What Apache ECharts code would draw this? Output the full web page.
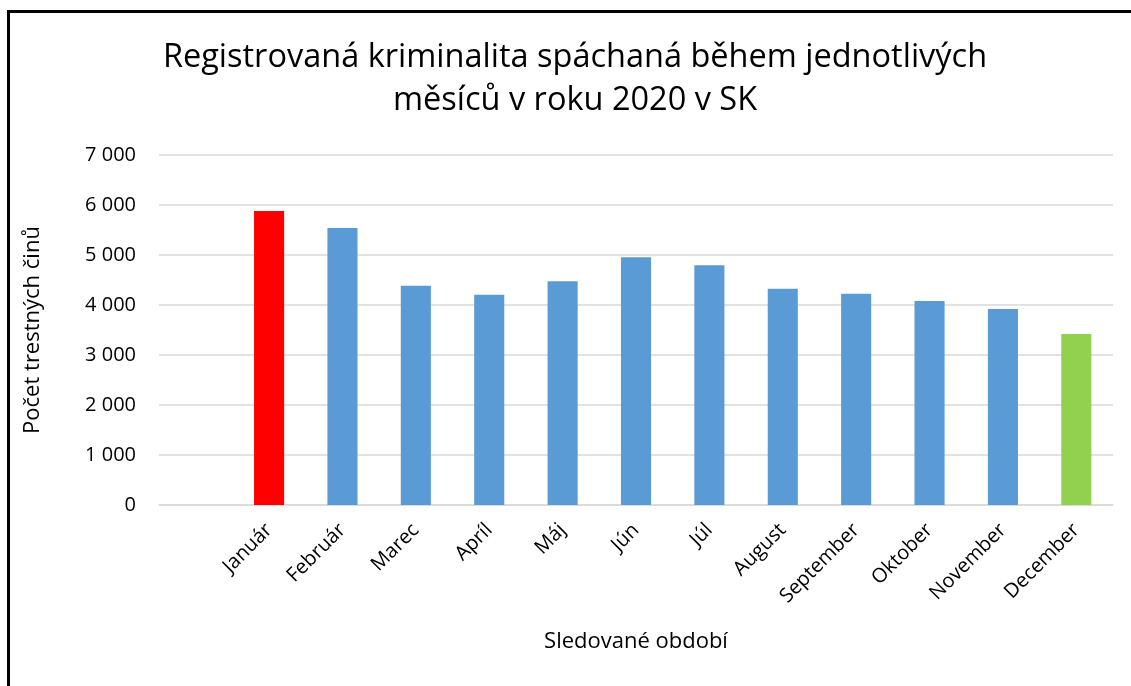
<!DOCTYPE html>
<html>
<head>
<meta charset="utf-8">
<script src="https://cdn.jsdelivr.net/npm/echarts@6/dist/echarts.min.js"></script>
<style>
html,body{margin:0;padding:0;background:#fff;overflow:hidden;}
#frame{position:absolute;left:7px;top:10px;width:1140px;height:700px;border:3px solid #000;box-sizing:border-box;}
#chart{position:absolute;left:0;top:0;width:1131px;height:686px;}
</style>
</head>
<body>
<div id="frame"></div>
<div id="chart"></div>
<script>
const categories = ['', 'Január', 'Február', 'Marec', 'Apríl', 'Máj', 'Jún', 'Júl', 'August', 'September', 'Oktober', 'November', 'December'];
const values = [null, 5880, 5540, 4386, 4206, 4474, 4954, 4794, 4326, 4226, 4080, 3920, 3420];
const barColors = ['#5B9BD5', '#FF0000', '#5B9BD5', '#5B9BD5', '#5B9BD5', '#5B9BD5', '#5B9BD5', '#5B9BD5', '#5B9BD5', '#5B9BD5', '#5B9BD5', '#5B9BD5', '#92D050'];
const yTicks = { min: 0, max: 7000, interval: 1000 };
const titleText = 'Registrovaná kriminalita spáchaná během jednotlivých\nměsíců v roku 2020 v SK';
const yName = 'Počet trestných činů';
const xName = 'Sledované období';

const FONT = '"Open Sans", "Noto Sans", sans-serif';
const chart = echarts.init(document.getElementById('chart'), null, {renderer: 'canvas'});
chart.setOption({
  backgroundColor: 'transparent',
  animation: false,
  title: {
    text: titleText,
    left: 575,
    textAlign: 'center',
    top: 36,
    padding: 0,
    textStyle: { fontFamily: FONT, fontSize: 32.5, fontWeight: 'normal', color: '#000', lineHeight: 43 }
  },
  grid: { left: 159, right: 18, top: 155, bottom: 181, containLabel: false },
  xAxis: {
    type: 'category',
    data: categories,
    name: xName,
    nameLocation: 'middle',
    nameGap: 126,
    nameTextStyle: { fontFamily: FONT, fontSize: 22, color: '#000' },
    axisLine: { lineStyle: { color: '#D9D9D9', width: 1.5 } },
    axisTick: { show: false },
    axisLabel: { interval: 0, rotate: 45, margin: 22, fontFamily: FONT, fontSize: 20, color: '#000' }
  },
  yAxis: {
    type: 'value',
    min: yTicks.min, max: yTicks.max, interval: yTicks.interval,
    name: yName,
    nameLocation: 'middle',
    nameGap: 115,
    nameRotate: 90,
    nameTextStyle: { fontFamily: FONT, fontSize: 22, color: '#000' },
    axisLine: { show: false },
    axisTick: { show: false },
    splitLine: { lineStyle: { color: '#D9D9D9', width: 1.5 } },
    axisLabel: {
      margin: 23, fontFamily: FONT, fontSize: 20, color: '#000',
      formatter: v => String(v).replace(/\B(?=(\d{3})+(?!\d))/g, ' ')
    }
  },
  series: [{
    type: 'bar',
    barWidth: '41%',
    data: values.map((v, i) => ({ value: v, itemStyle: { color: barColors[i] } }))
  }]
});
</script>
</body>
</html>
